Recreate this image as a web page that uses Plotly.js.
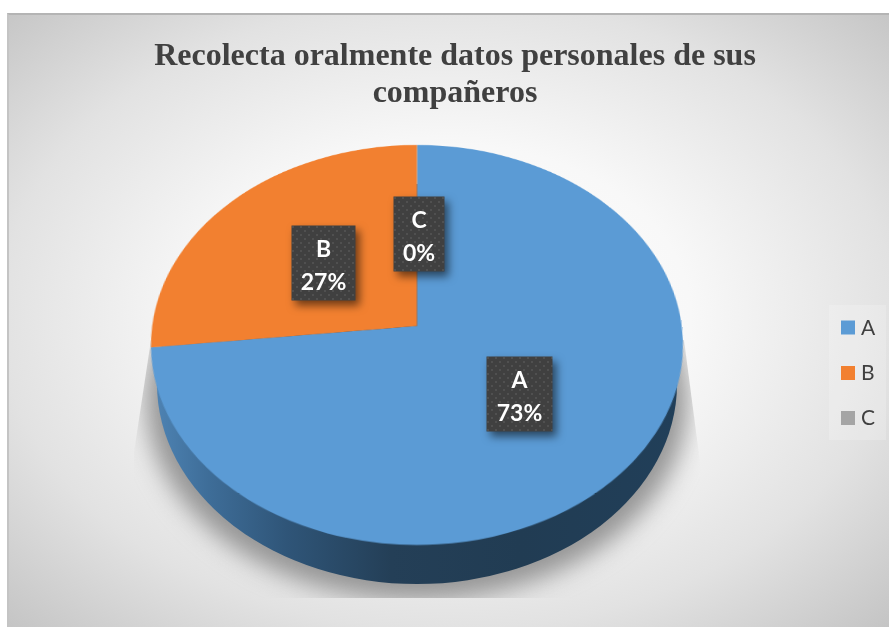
<!DOCTYPE html>
<html>
<head>
<meta charset="utf-8">
<script src="https://cdn.plot.ly/plotly-3.0.1.min.js"></script>
<style>
html,body{margin:0;padding:0;width:889px;height:627px;overflow:hidden;background:#fff}
#panel{position:absolute;left:7px;top:13px;width:882px;height:614px;box-sizing:border-box;
 border-top:2px solid #b4b4b4;border-left:2px solid #c4c4c4;
 background:radial-gradient(ellipse 640px 450px at 438px 300px,#ffffff 0%,#f8f8f8 38%,#e2e2e2 70%,#c2c2c2 100%)}
#shadowclip{position:absolute;left:0;top:0;width:889px;height:627px;
 clip-path:polygon(151px 340px,134px 452px,134px 598px,700px 598px,700px 462px,684px 340px)}
#shadow{position:absolute;left:146px;top:200px;width:542px;height:400px;border-radius:50%;background:#959595;filter:blur(12px)}
#rim{position:absolute;left:157px;top:184px;width:520px;height:400px;border-radius:50%;
 background:linear-gradient(90deg,#4d82b2 0%,#3e6d98 10%,#2f5578 25%,#243f57 45%,#213c53 70%,#213f59 100%)}
#chart{position:absolute;left:0;top:0;width:889px;height:627px}
.annotation rect.bg{filter:drop-shadow(4px 5px 4px rgba(0,0,0,.55))}
</style>
</head>
<body>
<div id="panel"></div>
<div id="shadowclip"><div id="shadow"></div></div>
<div id="rim"></div>
<div id="chart"></div>
<script>
const categories = ['A', 'B', 'C'];
const seriesValues = [73.3, 26.7, 0];
const percentLabels = ['73%', '27%', '0%'];
const sliceColors = ['#5B9BD5', '#F28030', '#A5A5A5'];
const labelX = [519.5, 323.5, 419];
const labelY = [394, 263, 234];
const labelW = [65, 63, 50];
const labelH = [74, 74, 74];
const titleLines = ['Recolecta oralmente datos personales de sus', 'compañeros'];

const W = 889, H = 627, R = 250;
const data = [{
  type: 'pie',
  labels: categories,
  values: seriesValues,
  sort: false,
  direction: 'clockwise',
  rotation: 0,
  textinfo: 'none',
  hoverinfo: 'label+percent',
  marker: {colors: sliceColors, line: {width: 0}},
  domain: {x: [(W/2-R)/W, (W/2+R)/W], y: [(H/2-R)/H, (H/2+R)/H]}
}];
const layout = {
  width: W, height: H,
  margin: {l: 0, r: 0, t: 0, b: 0},
  paper_bgcolor: 'rgba(0,0,0,0)',
  plot_bgcolor: 'rgba(0,0,0,0)',
  title: {
    text: titleLines.join('<br>'),
    font: {family: '"Liberation Serif", serif', size: 32, color: '#404040', weight: 700},
    x: 455 / W, xanchor: 'center',
    y: 1 - 65 / H, yanchor: 'bottom', pad: {t: 0, b: 0}
  },
  showlegend: true,
  legend: {
    x: 829 / W, xanchor: 'left', y: 1 - 305 / H, yanchor: 'top',
    bgcolor: 'rgba(255,255,255,0.2)', borderwidth: 0,
    font: {family: 'Lato, sans-serif', size: 21, color: '#404040'}
  },
  annotations: categories.map((c, i) => ({
    xref: 'paper', yref: 'paper',
    x: labelX[i] / W, y: 1 - labelY[i] / H,
    xanchor: 'center', yanchor: 'middle',
    text: '<b>' + c + '<br>' + percentLabels[i] + '</b>',
    showarrow: false,
    width: labelW[i], height: labelH[i],
    bgcolor: '#404040', borderpad: 0,
    font: {family: 'Lato, sans-serif', size: 23, color: '#ffffff'}
  }))
};

Plotly.newPlot('chart', data, layout, {displayModeBar: false, responsive: false}).then(() => {
  const root = document.getElementById('chart');
  // perspective of the tilted pie: circle -> ellipse whose apex sits above the ellipse centre
  const a = 264.8, b = 198.2, k = -0.095, cx = 417, cy = 326;
  const w0 = 1 - k * (H/2) / R;
  const m = [
    a/R, 0, 0, 0,
    cx*k/R, (cy*k + b)/R, 0, k/R,
    0, 0, 1, 0,
    cx*w0 - a*(W/2)/R, cy*w0 - b*(H/2)/R, 0, w0
  ];
  const base = root.querySelector('.main-svg');
  base.style.transformOrigin = '0 0';
  base.style.transform = 'matrix3d(' + m.join(',') + ')';

  // title line spacing
  root.querySelectorAll('.gtitle tspan.line').forEach((t, i) => { if (i) t.setAttribute('dy', '36.5'); });

  // data-label line spacing
  root.querySelectorAll('.annotation-text tspan.line').forEach(t => {
    if (t.getAttribute('dy') && parseFloat(t.getAttribute('dy')) > 0) t.setAttribute('dy', '33');
  });

  // legend geometry
  const lg = root.querySelector('.legend');
  lg.querySelector('.scrollbox').removeAttribute('clip-path');
  const bg = lg.querySelector('rect.bg');
  bg.setAttribute('width', 57); bg.setAttribute('height', 135);
  lg.setAttribute('transform', 'translate(829,305)');
  const rows = [22.5, 68, 113];
  lg.querySelectorAll('.traces').forEach((t, i) => {
    t.setAttribute('transform', 'translate(0,' + rows[i] + ')');
    const p = t.querySelector('.legendpie');
    if (p) { p.setAttribute('d', 'M7,7H-7V-7H7Z'); p.setAttribute('transform', 'translate(19,0)'); }
    const tx = t.querySelector('.legendtext');
    if (tx) { tx.setAttribute('x', 32); tx.setAttribute('y', 7); }
  });

  // dotted data-label fill
  const top = root.querySelector('.infolayer').ownerSVGElement;
  const NS = 'http://www.w3.org/2000/svg';
  const defs = document.createElementNS(NS, 'defs');
  const pat = document.createElementNS(NS, 'pattern');
  pat.setAttribute('id', 'dots'); pat.setAttribute('width', 8); pat.setAttribute('height', 8);
  pat.setAttribute('patternUnits', 'userSpaceOnUse');
  const r0 = document.createElementNS(NS, 'rect');
  r0.setAttribute('width', 8); r0.setAttribute('height', 8); r0.setAttribute('fill', '#404040');
  const c1 = document.createElementNS(NS, 'circle');
  c1.setAttribute('cx', 2); c1.setAttribute('cy', 2); c1.setAttribute('r', 1); c1.setAttribute('fill', '#555');
  const c2 = document.createElementNS(NS, 'circle');
  c2.setAttribute('cx', 6); c2.setAttribute('cy', 6); c2.setAttribute('r', 1); c2.setAttribute('fill', '#555');
  pat.append(r0, c1, c2); defs.append(pat); top.prepend(defs);
  root.querySelectorAll('.annotation rect.bg').forEach(r => { r.style.fill = 'url(#dots)'; });
});
</script>
</body>
</html>
